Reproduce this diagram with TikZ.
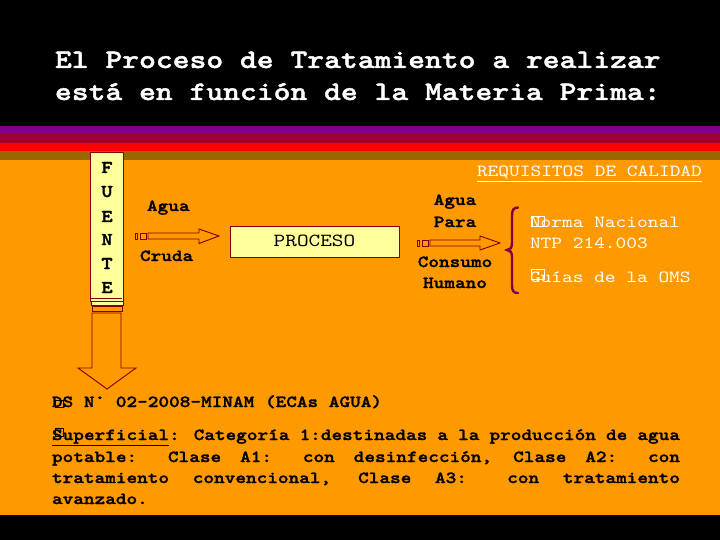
\documentclass[tikz,border=0pt]{standalone}
\usepackage{fontspec}
\setmainfont{lmmono10-regular.otf}[FakeStretch=1.2, BoldFont=lmmonolt10-bold.otf, BoldFeatures={FakeStretch=1.2, FakeBold=1.6}]
\definecolor{orangebg}{HTML}{FF9900}
\definecolor{stpurple}{HTML}{800080}
\definecolor{stcrimson}{HTML}{A00030}
\definecolor{stred}{HTML}{FF0000}
\definecolor{stbrown}{HTML}{996600}
\definecolor{paleyellow}{HTML}{FFFF9C}
\definecolor{outl}{HTML}{800000}
\definecolor{bracec}{HTML}{800040}
\tikzset{
  txt/.style={anchor=base west, inner sep=0pt, outer sep=0pt},
  ctxt/.style={anchor=base, inner sep=0pt, outer sep=0pt},
  title/.style={txt, text=white, font=\fontsize{26.7}{32}\selectfont\bfseries},
  body/.style={txt, text=black, font=\fontsize{16.9}{21}\selectfont\bfseries},
  cbody/.style={ctxt, text=black, font=\fontsize{16.9}{21}\selectfont\bfseries},
  wtext/.style={txt, text=white, font=\fontsize{17}{21}\selectfont},
  letter/.style={ctxt, text=black, font=\fontsize{18}{22}\selectfont\bfseries},
  yellowbox/.style={draw=outl, fill=paleyellow, line width=0.9pt},
  blockarrow/.style={draw=outl, line width=0.9pt},
  phbox/.style={draw, line width=0.8pt}
}
\begin{document}
\begin{tikzpicture}[x=1pt, y=-1pt]
\useasboundingbox (0,0) rectangle (720,540);
% background
\fill[orangebg] (0,0) rectangle (720,540);
\fill[black] (0,0) rectangle (720,126);
\fill[stpurple] (0,126) rectangle (720,134.5);
\fill[stcrimson] (0,134.5) rectangle (720,143);
\fill[stred] (0,143) rectangle (720,151.5);
\fill[stbrown] (0,151.5) rectangle (720,160);
\fill[black] (0,515) rectangle (720,540);
% title
\node[title] (t1) at (55,68) {El Proceso de Tratamiento a realizar};
\node[title] (t2) at (55,100) {está en función de la Materia Prima:};
% FUENTE column
\draw[yellowbox] (90,152) rectangle (123,301);
\draw[outl, line width=0.8pt] (91,298.5) -- (122,298.5);
\draw[yellowbox] (91,301) rectangle (123,305);
\draw[blockarrow] (92,306.5) rectangle (122,311);
\node[letter] (lF) at (107,173) {F};
\node[letter] (lU) at (107,197) {U};
\node[letter] (lE) at (107,222) {E};
\node[letter] (lN) at (107,245) {N};
\node[letter] (lT) at (107,269) {T};
\node[letter] (lE2) at (107,293) {E};
% down arrow
\draw[blockarrow] (92,313) -- (121,313) -- (121,368) -- (136,368) -- (107,389) -- (78,368) -- (92,368) -- cycle;
% Agua cruda
\node[body] (agua1) at (147,211) {Agua};
\node[body] (cruda) at (140,261) {Cruda};
% first arrow
\draw[blockarrow] (135,233) rectangle (137.5,239);
\draw[blockarrow] (140,233) rectangle (146,239);
\draw[blockarrow] (148,233) -- (199,233) -- (199,229) -- (219,236) -- (199,243.5) -- (199,239) -- (148,239) -- cycle;
% PROCESO
\node[yellowbox, minimum width=169pt, minimum height=31pt, inner sep=0pt, anchor=north west] (proc) at (230,226) {};
\node[ctxt, text=black, font=\fontsize{18.5}{22}\selectfont] (proct) at (314.5,246) {PROCESO};
% second arrow
\draw[blockarrow] (417,240) rectangle (419.5,246);
\draw[blockarrow] (422,240) rectangle (428,246);
\draw[blockarrow] (430,240) -- (480,240) -- (480,236) -- (500,243) -- (480,250) -- (480,246) -- (430,246) -- cycle;
\node[cbody] (a2) at (455,205) {Agua};
\node[cbody] (p2) at (455,227) {Para};
\node[cbody] (c2) at (455,267) {Consumo};
\node[cbody] (h2) at (455,288) {Humano};
% requisitos
\node[wtext] (req) at (477,177) {\underline{REQUISITOS DE CALIDAD}};
% brace
\draw[bracec, line width=2.4pt, line cap=round]
  (518,207.5) .. controls (513.5,207.5) and (512,210) .. (512,216) -- (512,243)
  .. controls (512,248) and (510,250) .. (507,250)
  .. controls (510,250) and (512,252) .. (512,257) -- (512,285)
  .. controls (512,291) and (513.5,293) .. (518,293);
\node[wtext] (norma) at (530,228) {Norma Nacional};
\node[wtext] (ntp) at (530,248) {NTP 214.003};
\node[wtext] (guias) at (530,282) {Guías de la OMS};
\draw[phbox, white] (531.5,216.5) rectangle (544.5,226);
\draw[phbox, white] (531.5,269.5) rectangle (544.5,279.5);
% DS text
\node[body] (ds) at (52,407) {DS N° 02-2008-MINAM (ECAs AGUA)};
\draw[phbox, black] (55,400) rectangle (63.5,407);
\node[body] (l1) at (52,440) {\makebox[628pt][s]{\underline{Superficial}: Categoría 1:destinadas a la producción de agua}};
\draw[phbox, black] (55,428) rectangle (63.5,436);
\node[body] (l2) at (52,462) {\makebox[628pt][s]{potable: Clase A1: con desinfección, Clase A2: con}};
\node[body] (l3) at (52,483) {\makebox[628pt][s]{tratamiento convencional, Clase A3: con tratamiento}};
\node[body] (l4) at (52,504) {avanzado.};
\end{tikzpicture}
\end{document}
